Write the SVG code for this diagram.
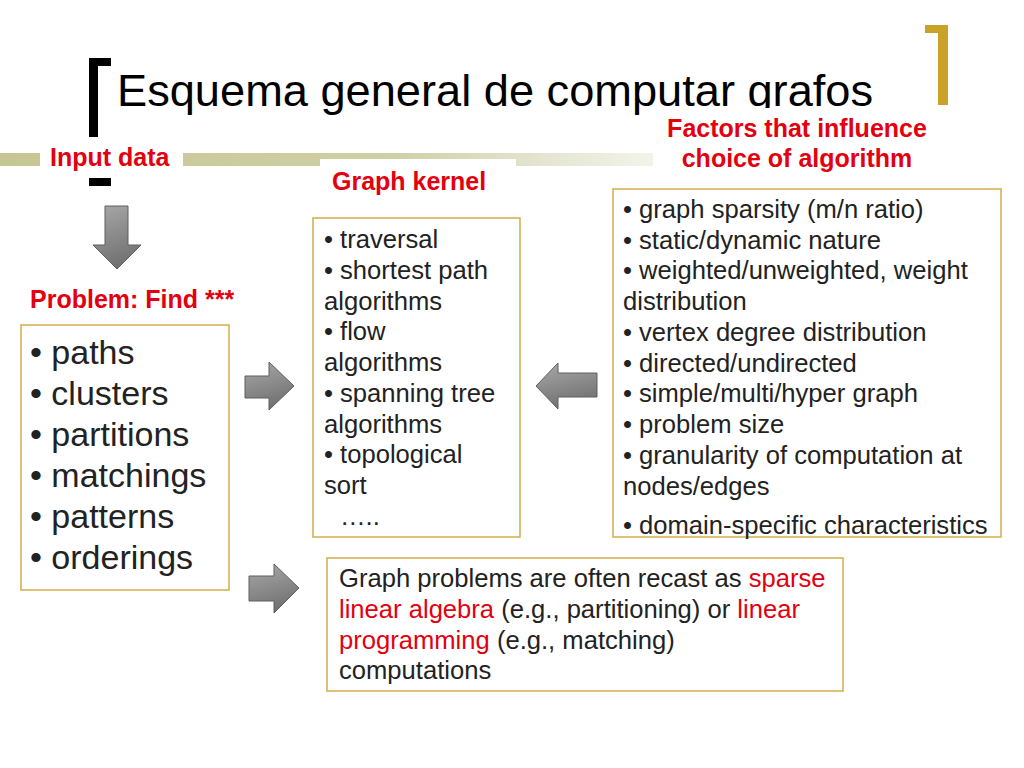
<svg xmlns="http://www.w3.org/2000/svg" width="1024" height="768" viewBox="0 0 1024 768">
<style>
  text { font-family: "Liberation Sans", Arial, sans-serif; }
  .title { font-size: 45.2px; fill: #000; }
  .lbl { font-size: 25px; font-weight: bold; fill: #E3000F; }
  .body { font-size: 25.6px; fill: #222; }
  .big { font-size: 34px; fill: #222; }
  .red { fill: #E3000F; }
  .box { fill: #fff; stroke: #D2AE4A; stroke-width: 1.5; }
  .arrow { fill: url(#ag); stroke: #5E5E5E; stroke-width: 1; }
</style>
<defs>
  <linearGradient id="bar" gradientUnits="userSpaceOnUse" x1="0" y1="0" x2="653" y2="0">
    <stop offset="0" stop-color="#C6C693"/>
    <stop offset="0.6" stop-color="#CFCFA5"/>
    <stop offset="0.8" stop-color="#E2E2CB"/>
    <stop offset="1" stop-color="#F3F3EA"/>
  </linearGradient>
  <linearGradient id="ag" x1="0" y1="0" x2="0.3" y2="1">
    <stop offset="0" stop-color="#A9A9A9"/>
    <stop offset="1" stop-color="#727272"/>
  </linearGradient>
</defs>
<rect width="1024" height="768" fill="#fff"/>

<g id="header">
  <rect x="0" y="153" width="653" height="13" fill="url(#bar)"/>
  <rect x="40" y="148" width="143" height="24" fill="#fff"/>
  <rect x="320" y="159" width="196" height="12" fill="#fff"/>
  <rect x="89" y="58" width="9" height="79" fill="#000"/>
  <rect x="89" y="58" width="22" height="8" fill="#000"/>
  <rect x="89" y="178" width="22" height="8" fill="#000"/>
  <rect x="925" y="25" width="23" height="8" fill="#C9A227"/>
  <rect x="938" y="25" width="10" height="80" fill="#C9A227"/>
  <text class="title" x="117" y="106">Esquema general de computar grafos</text>
  <rect x="700" y="108" width="230" height="14" fill="#fff"/>
</g>

<g id="input-data">
  <text class="lbl" x="50" y="166">Input data</text>
</g>

<g id="problem">
  <text class="lbl" x="30" y="308">Problem: Find ***</text>
  <rect class="box" x="21" y="325" width="208" height="265"/>
  <text class="big" x="30" y="364">• paths</text>
  <text class="big" x="30" y="405">• clusters</text>
  <text class="big" x="30" y="446">• partitions</text>
  <text class="big" x="30" y="487">• matchings</text>
  <text class="big" x="30" y="528">• patterns</text>
  <text class="big" x="30" y="569">• orderings</text>
</g>

<g id="graph-kernel">
  <text class="lbl" x="332" y="190">Graph kernel</text>
  <rect class="box" x="313" y="218" width="207" height="319"/>
  <text class="body" x="324" y="248">• traversal</text>
  <text class="body" x="324" y="279">• shortest path</text>
  <text class="body" x="324" y="310">algorithms</text>
  <text class="body" x="324" y="340">• flow</text>
  <text class="body" x="324" y="371">algorithms</text>
  <text class="body" x="324" y="402">• spanning tree</text>
  <text class="body" x="324" y="433">algorithms</text>
  <text class="body" x="324" y="463">• topological</text>
  <text class="body" x="324" y="494">sort</text>
  <text class="body" x="340" y="525">…..</text>
</g>

<g id="factors">
  <text class="lbl" x="797" y="137" text-anchor="middle">Factors that influence</text>
  <text class="lbl" x="797" y="167" text-anchor="middle">choice of algorithm</text>
  <rect class="box" x="613" y="189" width="388" height="348"/>
  <text class="body" x="623" y="218">• graph sparsity (m/n ratio)</text>
  <text class="body" x="623" y="249">• static/dynamic nature</text>
  <text class="body" x="623" y="279">• weighted/unweighted, weight</text>
  <text class="body" x="623" y="310">distribution</text>
  <text class="body" x="623" y="341">• vertex degree distribution</text>
  <text class="body" x="623" y="372">• directed/undirected</text>
  <text class="body" x="623" y="402">• simple/multi/hyper graph</text>
  <text class="body" x="623" y="433">• problem size</text>
  <text class="body" x="623" y="464">• granularity of computation at</text>
  <text class="body" x="623" y="495">nodes/edges</text>
  <text class="body" x="623" y="534">• domain-specific characteristics</text>
</g>

<g id="recast">
  <rect class="box" x="327" y="558" width="516" height="133"/>
  <text class="body" x="339" y="587">Graph problems are often recast as <tspan class="red">sparse</tspan></text>
  <text class="body" x="339" y="618"><tspan class="red">linear algebra</tspan> (e.g., partitioning) or <tspan class="red">linear</tspan></text>
  <text class="body" x="339" y="649"><tspan class="red">programming</tspan> (e.g., matching)</text>
  <text class="body" x="339" y="679">computations</text>
</g>

<g id="connectors">
  <polygon class="arrow" points="105,206 128,206 128,245 141,245 117,269 93,245 105,245"/>
  <polygon class="arrow" points="245,376 269,376 269,362 294,386 269,410 269,398 245,398"/>
  <polygon class="arrow" points="597,373 558,373 558,363 536,386 558,409 558,397 597,397"/>
  <polygon class="arrow" points="249,576 274,576 274,564 299,588 274,613 274,601 249,601"/>
</g>
</svg>
